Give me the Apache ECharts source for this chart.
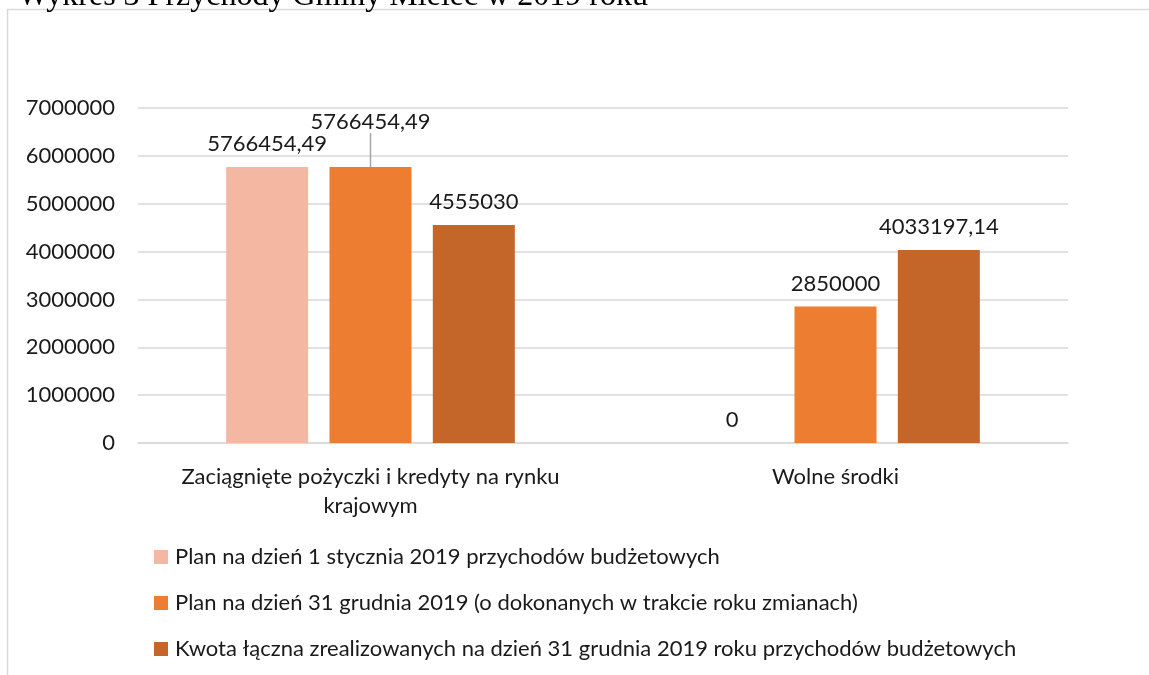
<!DOCTYPE html>
<html>
	<head>
		<meta charset="UTF-8">
		<title></title>
	</head>
	<body style="height: 100%; margin: 0">
		<div id="container" style="width: 1149px; height: 675px"></div>
		<script src="https://cdn.jsdelivr.net/npm/echarts@6/dist/echarts.min.js" type="text/javascript" charset="utf-8"></script>
		<script type="text/javascript">
			var categories = ['Zaciągnięte pożyczki i kredyty na rynku\nkrajowym', 'Wolne środki'];
			var seriesNames = [
			    'Plan na dzień 1 stycznia 2019 przychodów budżetowych',
			    'Plan na dzień 31 grudnia 2019 (o dokonanych w trakcie roku zmianach)',
			    'Kwota łączna zrealizowanych na dzień 31 grudnia 2019 roku przychodów budżetowych'
			];
			var planStart = [5766454.49, 0];
			var planEnd = [5766454.49, 2850000];
			var realized = [4555030, 4033197.14];
			var colors = ['#f4b8a2', '#ed7d31', '#c4652a'];

			var dom = document.getElementById("container");
			var myChart = echarts.init(dom);
			var font = 'Lato';
			var fontSize = 22;
			var textColor = '#1a1a1a';

			function fmt(p) {
			    return String(p.value).replace('.', ',');
			}

			function makeSeries(i, data) {
			    return {
			        name: seriesNames[i],
			        type: 'bar',
			        data: data,
			        barWidth: 82,
			        barGap: '26%',
			        itemStyle: { color: colors[i] },
			        label: {
			            show: true,
			            position: 'top',
			            distance: 12,
			            formatter: fmt,
			            fontFamily: font,
			            fontSize: fontSize,
			            color: textColor
			        }
			    };
			}

			// the middle bar of the first group has its label lifted, with a leader line
			var planEndData = planEnd.map(function (v, i) {
			    if (i === 0) {
			        return {
			            value: v,
			            labelLine: { show: true, lineStyle: { color: '#a6a6a6', width: 1.5 } }
			        };
			    }
			    return v;
			});
			var s1 = makeSeries(1, planEndData);
			s1.labelLayout = function (params) {
			    if (params.dataIndex === 0) {
			        return { dy: -22 };
			    }
			    return {};
			};

			var option = {
			    animation: false,
			    color: colors,
			    graphic: [
			        {
			            type: 'rect',
			            shape: { x: 7.5, y: 9.5, width: 1200, height: 700 },
			            style: { fill: 'none', stroke: '#d9d9d9', lineWidth: 1.5 },
			            silent: true
			        },
			        {
			            type: 'text',
			            left: 18,
			            top: -19,
			            style: {
			                text: 'Wykres 3 Przychody Gminy Mielec w 2019 roku',
			                font: '32px "Liberation Serif"',
			                fill: '#000'
			            }
			        }
			    ],
			    grid: {
			        left: 138,
			        right: 81,
			        top: 108,
			        bottom: 232
			    },
			    legend: {
			        orient: 'vertical',
			        left: 154,
			        top: 546,
			        padding: 0,
			        itemWidth: 14,
			        itemHeight: 14,
			        itemGap: 24,
			        icon: 'rect',
			        data: seriesNames,
			        textStyle: {
			            fontFamily: font,
			            fontSize: fontSize,
			            lineHeight: 20,
			            color: textColor,
			            padding: [0, 0, 0, 2]
			        }
			    },
			    xAxis: {
			        type: 'category',
			        data: categories,
			        axisLine: { lineStyle: { color: '#d9d9d9', width: 1.5 } },
			        axisTick: { show: false },
			        axisLabel: {
			            interval: 0,
			            hideOverlap: false,
			            margin: 19,
			            fontFamily: font,
			            fontSize: fontSize,
			            lineHeight: 29,
			            color: textColor
			        }
			    },
			    yAxis: {
			        type: 'value',
			        min: 0,
			        max: 7000000,
			        interval: 1000000,
			        axisLine: { show: false },
			        axisTick: { show: false },
			        splitLine: { lineStyle: { color: '#d9d9d9', width: 1.5 } },
			        axisLabel: {
			            margin: 23,
			            fontFamily: font,
			            fontSize: fontSize,
			            color: textColor,
			            formatter: function (v) { return String(v); }
			        }
			    },
			    series: [
			        makeSeries(0, planStart),
			        s1,
			        makeSeries(2, realized)
			    ]
			};

			myChart.setOption(option);
		</script>
	</body>
</html>
